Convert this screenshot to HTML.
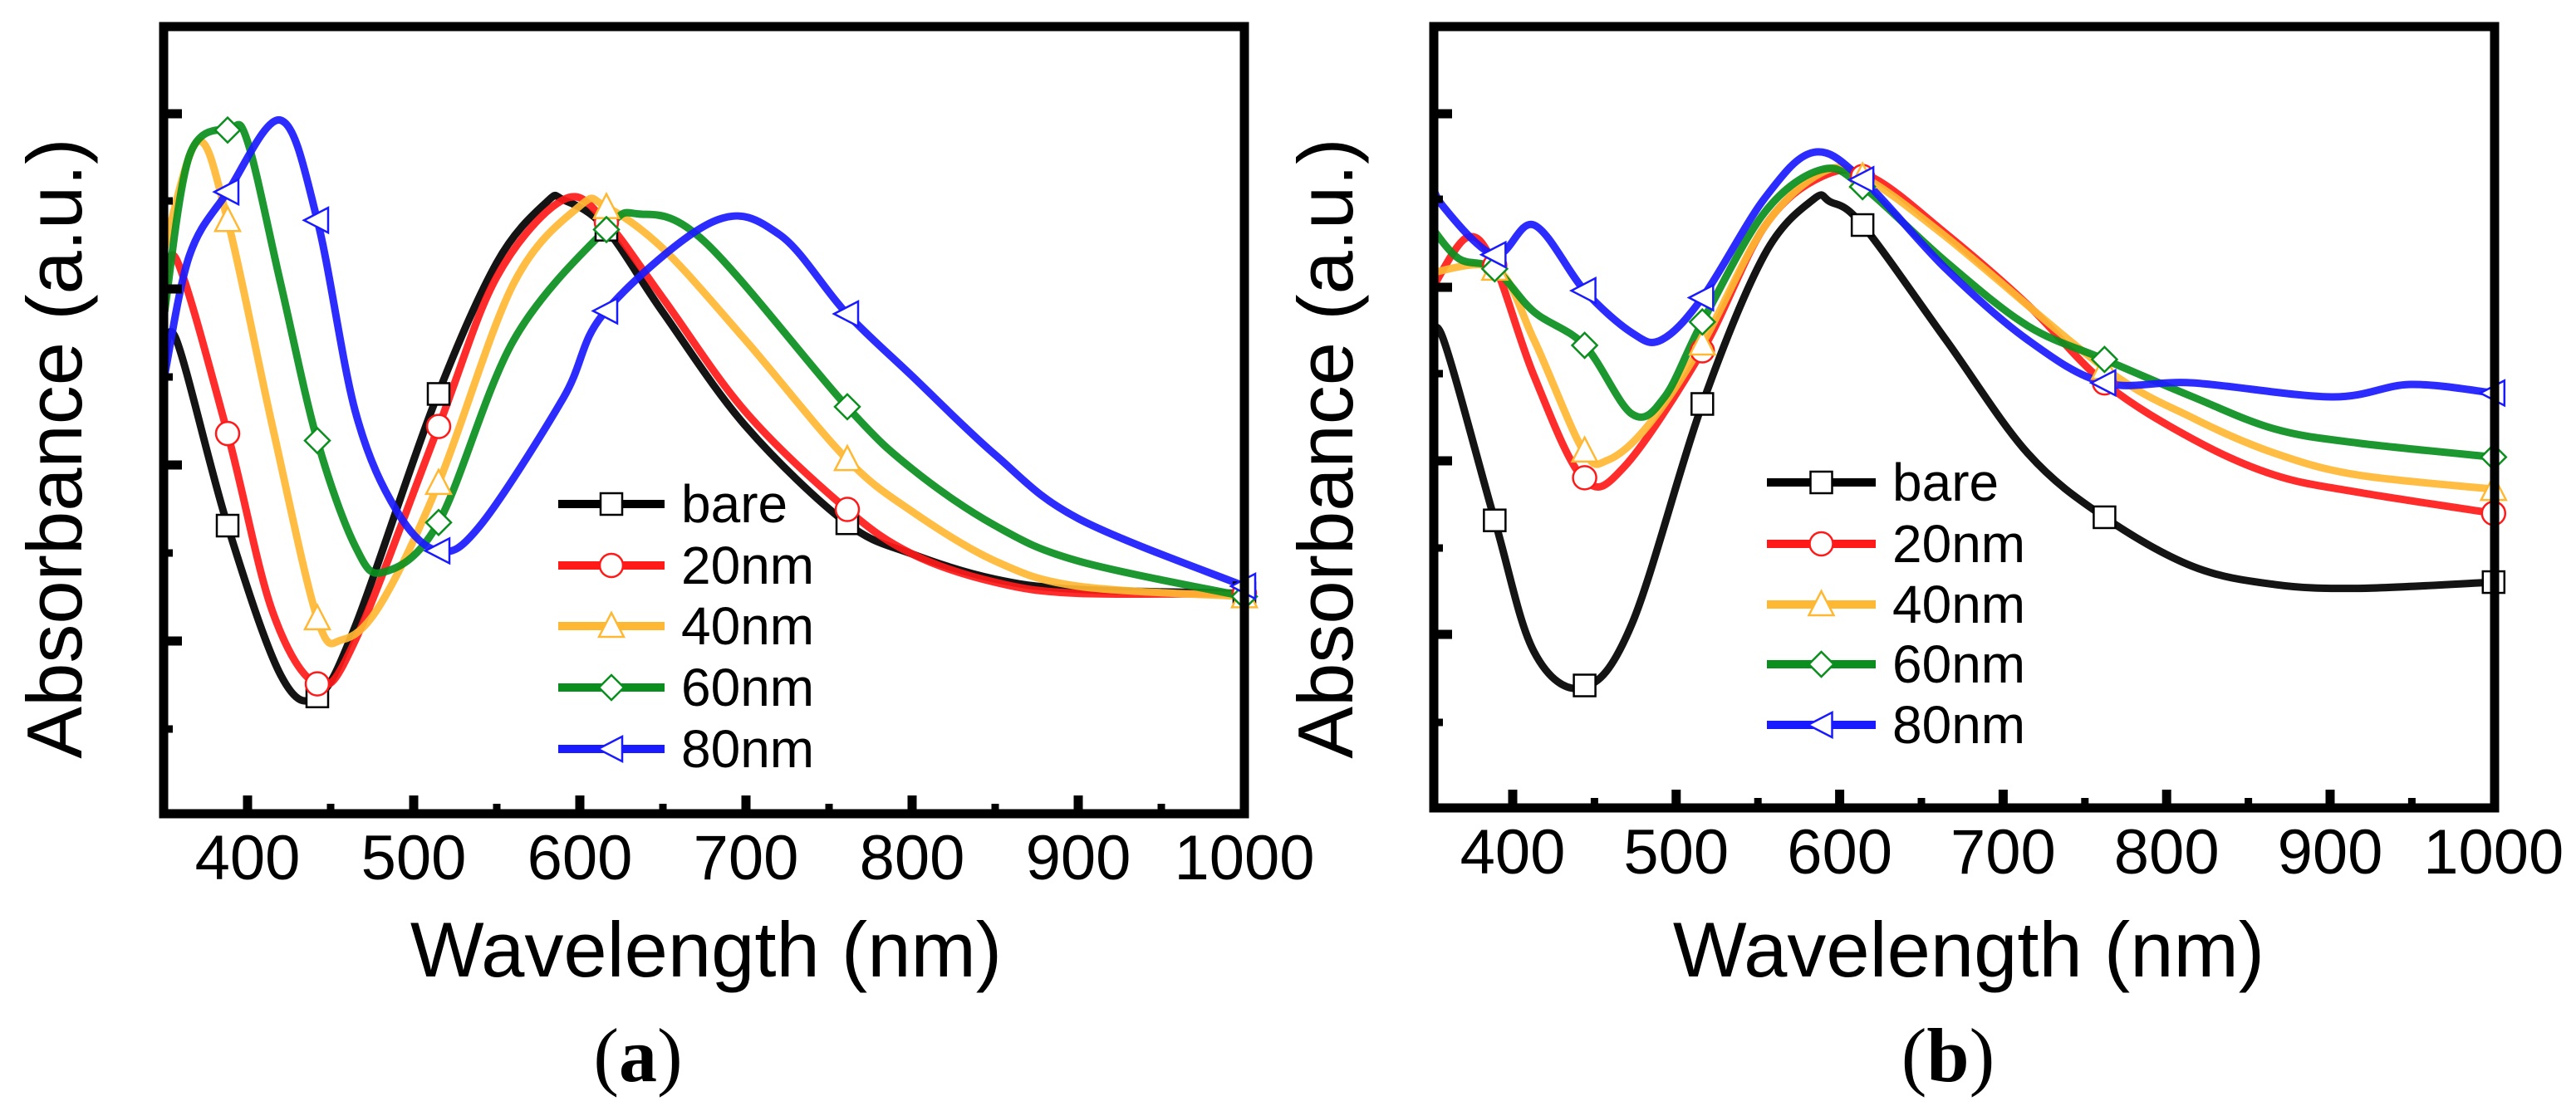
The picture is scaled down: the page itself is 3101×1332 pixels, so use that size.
<!DOCTYPE html>
<html><head><meta charset="utf-8"><style>
html,body{margin:0;padding:0;background:#fff;}
svg{display:block;font-family:"Liberation Sans",Arial,sans-serif;}
</style></head><body>
<svg id="fig" width="3101" height="1332" viewBox="0 0 3101 1332" xmlns="http://www.w3.org/2000/svg"></svg>
<script>
// ---- data ----
const seriesNames = ["bare","20nm","40nm","60nm","80nm"];
const seriesColors = ["#000000","#ff1a1a","#ffb833","#0a8f1e","#1a1aff"];
const markerTypes = ["square","circle","triUp","diamond","triLeft"];
const xTicks = [400,500,600,700,800,900,1000];
const xMinor = [450,550,650,750,850,950];
const markerWlA = [388,442,515,616,761,1000];
const markerWlB = [389,444,516,614,762,1000];

// Panel (a)
const a_bare_x = [350,357,388,420,442,465,512,550,580,590,615,650,700,760,800,850,900,1000];
const a_bare_y = [0.565,0.603,0.366,0.176,0.149,0.239,0.519,0.700,0.777,0.780,0.745,0.637,0.492,0.370,0.330,0.298,0.285,0.280];
const a_20_x = [350,357,388,415,442,465,515,550,590,615,650,700,760,800,850,900,1000];
const a_20_y = [0.637,0.705,0.483,0.257,0.165,0.221,0.492,0.682,0.780,0.754,0.655,0.510,0.388,0.330,0.294,0.280,0.280];
const a_40_x = [350,370,388,415,442,457,480,515,560,600,615,650,700,760,800,850,900,1000];
const a_40_y = [0.718,0.854,0.754,0.492,0.248,0.221,0.266,0.420,0.673,0.772,0.772,0.718,0.601,0.452,0.384,0.321,0.289,0.276];
const a_60_x = [350,365,389,400,420,442,465,482,515,560,615,635,675,760,800,850,900,1000];
const a_60_y = [0.637,0.836,0.870,0.854,0.673,0.474,0.339,0.307,0.370,0.601,0.741,0.762,0.727,0.519,0.438,0.366,0.321,0.276];
const a_80_x = [350,365,388,420,442,465,490,515,540,590,615,680,720,760,800,850,900,1000];
const a_80_y = [0.556,0.709,0.790,0.881,0.754,0.510,0.384,0.334,0.366,0.528,0.637,0.752,0.736,0.637,0.556,0.456,0.375,0.289];

// Panel (b)
const b_bare_x = [350,357,389,413,443,473,516,554,584,594,614,665,715,762,816,866,917,1000];
const b_bare_y = [0.581,0.603,0.368,0.200,0.154,0.236,0.517,0.708,0.779,0.776,0.746,0.599,0.454,0.372,0.309,0.286,0.281,0.289];
const b_20_x = [350,372,389,413,443,468,516,554,589,619,665,715,762,816,866,917,1000];
const b_20_y = [0.662,0.730,0.694,0.553,0.422,0.436,0.585,0.744,0.808,0.808,0.735,0.644,0.544,0.472,0.426,0.404,0.377];
const b_40_x = [350,390,413,443,458,483,516,554,589,614,665,762,816,866,917,1000];
const b_40_y = [0.685,0.690,0.599,0.458,0.445,0.490,0.594,0.744,0.813,0.808,0.731,0.563,0.499,0.454,0.426,0.408];
const b_60_x = [350,367,389,413,444,473,493,516,554,589,614,665,715,762,816,866,917,1000];
const b_60_y = [0.744,0.703,0.690,0.635,0.592,0.504,0.526,0.622,0.762,0.817,0.795,0.699,0.617,0.574,0.526,0.485,0.467,0.449];
const b_80_x = [350,357,389,413,444,473,491,516,554,584,614,665,715,762,816,901,949,1000];
const b_80_y = [0.808,0.771,0.708,0.746,0.662,0.608,0.599,0.653,0.780,0.839,0.804,0.690,0.599,0.544,0.544,0.526,0.542,0.531];

const NS="http://www.w3.org/2000/svg";
const svg=document.getElementById('fig');
function mk(tag,attrs,parent){const e=document.createElementNS(NS,tag);for(const k in attrs)e.setAttribute(k,attrs[k]);(parent||svg).appendChild(e);return e;}

function interp(xs,ys,x){
  if(x<=xs[0])return ys[0];
  for(let i=0;i<xs.length-1;i++){if(x<=xs[i+1]){const t=(x-xs[i])/(xs[i+1]-xs[i]);return ys[i]+t*(ys[i+1]-ys[i]);}}
  return ys[ys.length-1];
}
function splinePath(pts){
  let d=`M${pts[0][0].toFixed(1)},${pts[0][1].toFixed(1)}`;
  for(let i=0;i<pts.length-1;i++){
    const p0=pts[Math.max(0,i-1)],p1=pts[i],p2=pts[i+1],p3=pts[Math.min(pts.length-1,i+2)];
    const c1=[p1[0]+(p2[0]-p0[0])/6,p1[1]+(p2[1]-p0[1])/6];
    const c2=[p2[0]-(p3[0]-p1[0])/6,p2[1]-(p3[1]-p1[1])/6];
    d+=`C${c1[0].toFixed(1)},${c1[1].toFixed(1)} ${c2[0].toFixed(1)},${c2[1].toFixed(1)} ${p2[0].toFixed(1)},${p2[1].toFixed(1)}`;
  }
  return d;
}
function marker(g,type,cx,cy,color){
  const s=13;let e;
  const st={fill:'#fff',stroke:color,'stroke-width':2.5};
  if(type==='square')e=mk('rect',Object.assign({x:cx-s,y:cy-s,width:2*s,height:2*s},st),g);
  else if(type==='circle')e=mk('circle',Object.assign({cx:cx,cy:cy,r:s+1},st),g);
  else if(type==='triUp')e=mk('polygon',Object.assign({points:`${cx},${cy-s-3} ${cx+s+2},${cy+s} ${cx-s-2},${cy+s}`},st),g);
  else if(type==='diamond')e=mk('polygon',Object.assign({points:`${cx},${cy-s-2} ${cx+s+2},${cy} ${cx},${cy+s+2} ${cx-s-2},${cy}`},st),g);
  else e=mk('polygon',Object.assign({points:`${cx-s-3},${cy} ${cx+s},${cy-s-2} ${cx+s},${cy+s+2}`},st),g);
  
  
  return e;
}

function panel(cfg){
  const g=mk('g',{});
  
  
  const X=w=>cfg.x400+(w-400)*cfg.pxnm;
  const Y=v=>cfg.bottom-(cfg.bottom-cfg.top)*v;
  const clipId=cfg.name+'-clip';
  const defs=mk('defs',{},g);
  const cp=mk('clipPath',{id:clipId},defs);
  mk('rect',{x:cfg.left,y:cfg.top,width:cfg.right-cfg.left,height:cfg.bottom-cfg.top},cp);
  const plot=mk('g',{'clip-path':`url(#${clipId})`},g);
  
  
  cfg.series.forEach((s,i)=>{
    const pts=s[0].map((w,j)=>[X(w),Y(s[1][j])]);
    const p=mk('path',{d:splinePath(pts),fill:'none',stroke:seriesColors[i],'stroke-width':9,'stroke-linejoin':'round','stroke-linecap':'round',opacity:0.92},plot);
    
    
  });
  cfg.series.forEach((s,i)=>{
    cfg.markerWl.forEach(w=>{
      marker(g,markerTypes[i],X(w),Y(interp(s[0],s[1],w)),seriesColors[i]);
    });
  });
  const fr=mk('rect',{x:cfg.left,y:cfg.top,width:cfg.right-cfg.left,height:cfg.bottom-cfg.top,fill:'none',stroke:'#000','stroke-width':11},g);
  
  
  xTicks.forEach(t=>{
    const x=X(t);
    if(t<1000){const tk=mk('line',{x1:x,x2:x,y1:cfg.bottom,y2:cfg.bottom-22,stroke:'#000','stroke-width':11},g);
      }
    const tl=mk('text',{x:x,y:cfg.bottom+79,'font-size':76,'text-anchor':'middle',fill:'#000'},g);
    tl.textContent=t;
    
    
  });
  xMinor.forEach(t=>{const x=X(t);mk('line',{x1:x,x2:x,y1:cfg.bottom,y2:cfg.bottom-12,stroke:'#000','stroke-width':9},g);});
  cfg.yTicks.forEach(y=>{const tk=mk('line',{x1:cfg.left,x2:cfg.left+22,y1:y,y2:y,stroke:'#000','stroke-width':11},g);
    });
  cfg.yMinor.forEach(y=>{mk('line',{x1:cfg.left,x2:cfg.left+11,y1:y,y2:y,stroke:'#000','stroke-width':9},g);});
  const xt=mk('text',{x:cfg.xTitleX,y:1176,'font-size':94,'text-anchor':'middle',fill:'#000'},g);
  xt.textContent='Wavelength (nm)';
  
  const yt=mk('text',{x:0,y:0,'font-size':94,'text-anchor':'middle',fill:'#000',transform:`translate(${cfg.yTitleX},${cfg.yTitleY}) rotate(-90)`},g);
  yt.textContent='Absorbance (a.u.)';
  
  const cap=mk('text',{x:cfg.capX,y:1302,'font-size':92,'text-anchor':'middle',fill:'#000','font-family':'"Liberation Serif",serif'},g);
  cap.innerHTML='(<tspan font-weight="bold">'+cfg.capLetter+'</tspan>)';
  
  const lg=mk('g',{},g);
  
  seriesNames.forEach((n,i)=>{
    const y=cfg.legY[i];
    const e=mk('g',{},lg);
    
    mk('line',{x1:cfg.legX1,x2:cfg.legX2,y1:y,y2:y,stroke:seriesColors[i],'stroke-width':10},e);
    marker(e,markerTypes[i],(cfg.legX1+cfg.legX2)/2,y,seriesColors[i]);
    const t=mk('text',{x:cfg.legX2+20,y:y+22,'font-size':64,fill:'#000'},e);
    t.textContent=n;
  });
}

panel({name:'panel-a',left:197,right:1498,top:32,bottom:980,x400:298,pxnm:2.0,
  series:[[a_bare_x,a_bare_y],[a_20_x,a_20_y],[a_40_x,a_40_y],[a_60_x,a_60_y],[a_80_x,a_80_y]],
  markerWl:markerWlA,yTicks:[137,348,560,772],yMinor:[242,454,666,878],
  xTitleX:850,yTitleX:98,yTitleY:540,capX:768,capLetter:'a',
  legY:[607,681,754,828,902],legX1:672,legX2:800});
panel({name:'panel-b',left:1726,right:3003,top:32,bottom:973,x400:1821,pxnm:1.968,
  series:[[b_bare_x,b_bare_y],[b_20_x,b_20_y],[b_40_x,b_40_y],[b_60_x,b_60_y],[b_80_x,b_80_y]],
  markerWl:markerWlB,yTicks:[137,346,555,764],yMinor:[240,450,660,870],
  xTitleX:2370,yTitleX:1628,yTitleY:540,capX:2345,capLetter:'b',
  legY:[581,655,728,800,873],legX1:2127,legX2:2258});
</script>
</body></html>
